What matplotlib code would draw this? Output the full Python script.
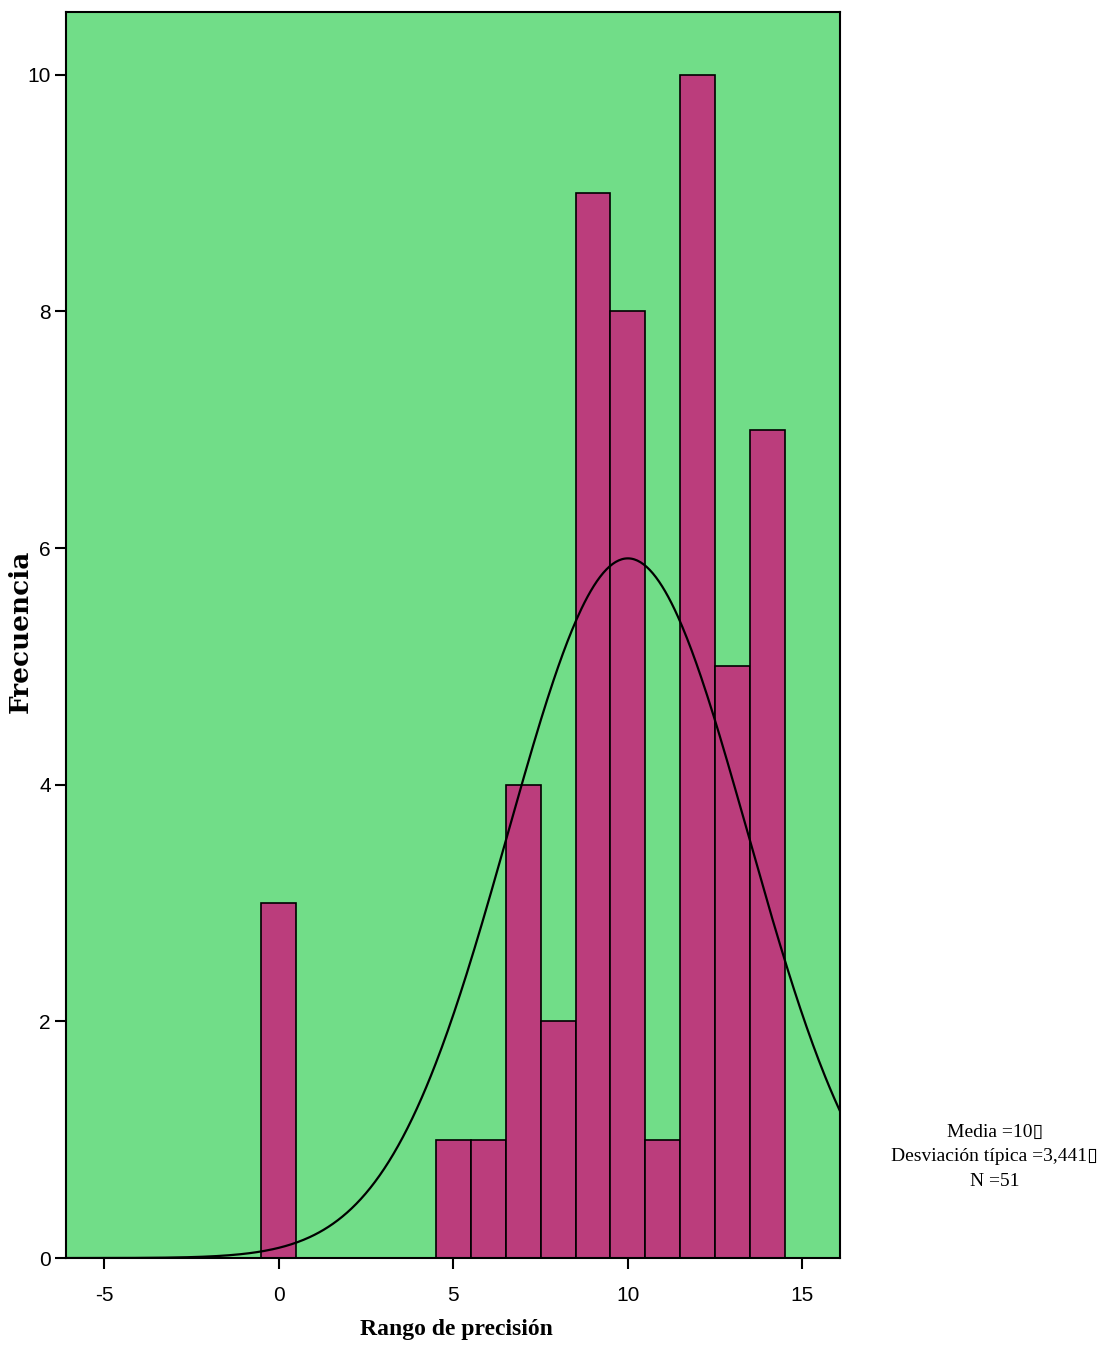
import numpy as np
import matplotlib
matplotlib.use("Agg")
import matplotlib.pyplot as plt

plt.rcParams["axes.unicode_minus"] = False

# histogram data (bins of width 1, centred on integers)
bin_centers = [0, 5, 6, 7, 8, 9, 10, 11, 12, 13, 14]
counts = [3, 1, 1, 4, 2, 9, 8, 1, 10, 5, 7]
mean = 10
std = 3.441
n = 51

xticks = [-5, 0, 5, 10, 15]
yticks = [0, 2, 4, 6, 8, 10]

green = "#71DD88"
magenta = "#BB3D7C"
sans = ["Liberation Sans Narrow", "Liberation Sans", "DejaVu Sans"]
serif = ["Liberation Serif", "DejaVu Serif"]

fig = plt.figure(figsize=(11.03, 13.5), dpi=100)
ax = fig.add_axes([0.0598, 0.0681, 0.7018, 0.9230])
ax.set_facecolor(green)

ax.bar(bin_centers, counts, width=1.0, color=magenta, edgecolor="black", linewidth=1.2, zorder=2)

xs = np.linspace(-6.1, 16.1, 500)
ys = n * 1.0 / (std * np.sqrt(2 * np.pi)) * np.exp(-0.5 * ((xs - mean) / std) ** 2)
ax.plot(xs, ys, color="black", linewidth=1.6, zorder=3)

ax.set_xlim(-6.1, 16.08)
ax.set_ylim(0, 10.53)
ax.set_xticks(xticks)
ax.set_yticks(yticks)
ax.tick_params(axis="both", direction="out", length=8, width=1.5, labelsize=15)
ax.tick_params(axis="x", pad=12)
ax.tick_params(axis="y", pad=3)
for lab in ax.get_xticklabels() + ax.get_yticklabels():
    lab.set_family(sans)
for s in ax.spines.values():
    s.set_linewidth(1.5)

ax.set_xlabel("Rango de precisión", family=serif, fontweight="bold", fontsize=17)
ax.xaxis.set_label_coords(0.505, -0.049)
ax.set_ylabel("Frecuencia", family=["DejaVu Serif"], fontweight="bold", fontsize=19)
ax.yaxis.set_label_coords(-0.043, 0.503)

fig.text(0.902, 0.143, "Media =10\u25af\nDesviación típica =3,441\u25af\nN =51",
         ha="center", va="center", fontsize=14, family=serif + ["DejaVu Sans"],
         linespacing=1.6)

fig.savefig("out.png", dpi=100)
